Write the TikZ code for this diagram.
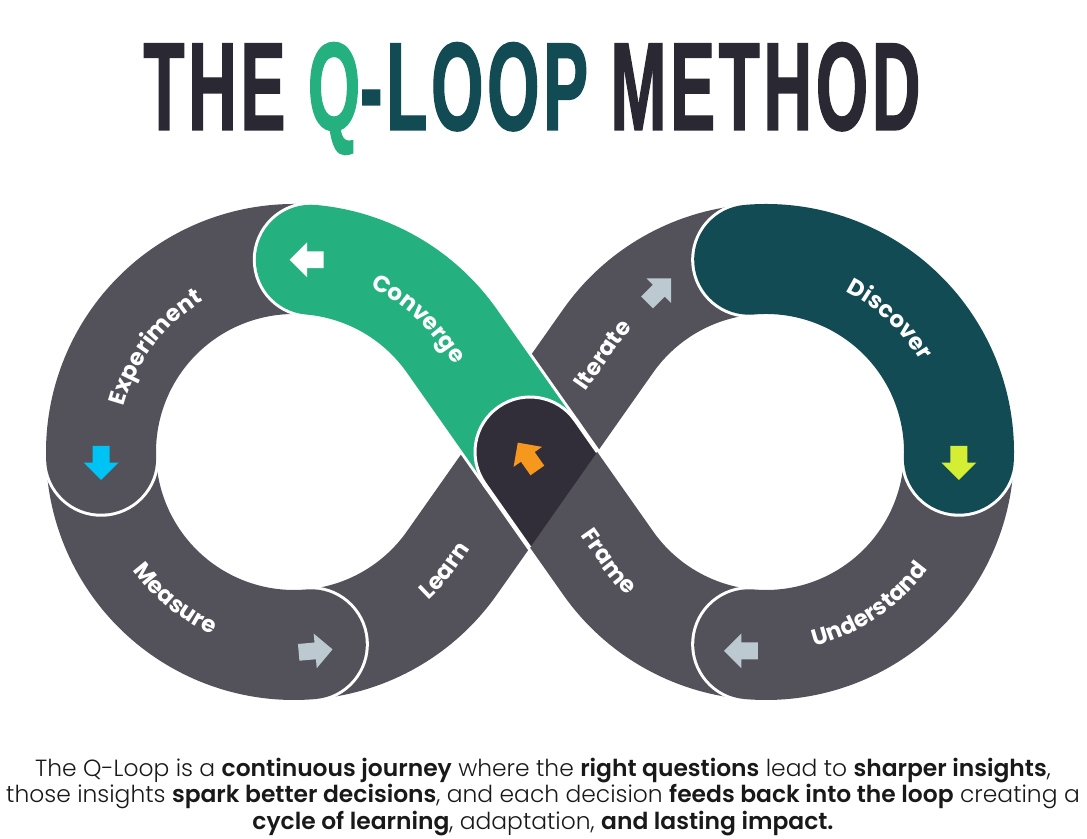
\documentclass[tikz,border=0pt]{standalone}
\usepackage{fontspec}
\usepackage{xcolor}
\usetikzlibrary{
    arrows.meta,
    shapes.arrows,
    positioning,
    calc,
    decorations.text
}
\newfontfamily\titlefont[FakeStretch=0.535,LetterSpace=3,BoldFeatures={FakeBold=1}]{Liberation Sans}
\newfontfamily\bodyfont[UprightFont={* Light},BoldFont={* SemiBold}]{Poppins}
\newfontfamily\labelfont{Poppins}
\definecolor{bandgray}{HTML}{53515A}
\definecolor{qgreen}{HTML}{25B17F}
\definecolor{qteal}{HTML}{124B53}
\definecolor{tipdark}{HTML}{322E39}
\definecolor{inkdark}{HTML}{2A2833}
\definecolor{arrowgray}{HTML}{BDC9D1}
\definecolor{arrowblue}{HTML}{00C3F5}
\definecolor{arrowlime}{HTML}{D4EE33}
\definecolor{arroworange}{HTML}{F7981E}

\begin{document}
\begin{tikzpicture}[x=0.5pt, y=0.5pt,
    band/.style={line width=55pt, line cap=butt},
    pill/.style={draw=white, line width=1.5pt, double=#1, double distance=55pt, line cap=round},
    flat-pill/.style={draw=white, line width=1.5pt, double=#1, double distance=55pt, line cap=butt},
    arrow-node/.style={single arrow, fill=#1, draw=none, inner sep=4pt, single arrow head extend=4.5pt, single arrow tip angle=90, minimum height=17pt},
    loop-label/.style={decorate, decoration={text along path, text align=center, text color=white,
        text={|\labelfont\bfseries\fontsize{11.5}{12}\selectfont|#1}}}]
    \useasboundingbox (0,0) rectangle (1087,839);

    % title
    \node [anchor=base, text=inkdark, font=\titlefont\bfseries\fontsize{62.8}{70}\selectfont] (title) at (532,709) {THE \textcolor{qgreen}{Q}\textcolor{qteal}{-LOOP} METHOD};

    % the two loops
    \coordinate (CL) at (294,387);
    \coordinate (CR) at (766,387);
    \coordinate (X) at (530,387);
    \coordinate (T1) at ($(CL)+(35.1:193)$);
    \coordinate (T2) at ($(CL)+(-35.1:193)$);
    \coordinate (T3) at ($(CR)+(144.9:193)$);
    \coordinate (T4) at ($(CR)+(215.1:193)$);

    % learn and iterate run under the crossing
    \draw [band, bandgray] ($(CL)+(275:193)$) arc[start angle=275, end angle=324.9, radius=193] -- (T3) arc[start angle=144.9, end angle=95, radius=193];
    \draw [pill=bandgray] ($(CL)+(182:193)$) arc[start angle=182, end angle=275, radius=193];
    \draw [pill=bandgray] ($(CL)+(85:193)$) arc[start angle=85, end angle=182, radius=193];
    \draw [pill=qgreen] (X) -- (T1) arc[start angle=35.1, end angle=85, radius=193];
    \draw [flat-pill=bandgray] ($(CR)+(265:193)$) arc[start angle=265, end angle=215.1, radius=193] -- (X);
    \draw [pill=bandgray] ($(CR)+(358:193)$) arc[start angle=358, end angle=265, radius=193];
    \draw [pill=qteal] ($(CR)+(95:193)$) arc[start angle=95, end angle=-2, radius=193];

    % dark tip on the crossing
    \fill [tipdark] ($(X)+(35.1:55)$) arc[start angle=35.1, end angle=215.1, radius=55] -- ($(X)+(0,-95.6)$) -- ($(X)+(67.2,0)$) -- cycle;
    \draw [white, line width=1.5pt] ($(X)+(67.2,0)$) -- ($(X)+(35.1:55)$) arc[start angle=35.1, end angle=215.1, radius=55] -- ($(X)+(0,-95.6)$);

    % arrows
    \node [arrow-node=white, rotate=180] (arr-converge) at ($(CL)+(85:193)$) {};
    \node [arrow-node=arrowblue, rotate=-90] (arr-experiment) at ($(CL)+(182:193)$) {};
    \node [arrow-node=arrowgray, rotate=5] (arr-measure) at ($(CL)+(275:200)$) {};
    \node [arrow-node=arroworange, rotate=125.1] (arr-frame) at ($(X)+(0,-8)$) {};
    \node [arrow-node=arrowgray, rotate=45] (arr-iterate) at ($(CR)+(124.7:193)$) {};
    \node [arrow-node=arrowlime, rotate=-90] (arr-discover) at ($(CR)+(-2:193)$) {};
    \node [arrow-node=arrowgray, rotate=180] (arr-understand) at ($(CR)+(264:200)$) {};

    % labels along the band
    \path [loop-label=Experiment] ($(CL)+(200:176)$) arc[start angle=200, end angle=86, radius=176];
    \path [loop-label=Converge] ($(CL)+(80:181)$) arc[start angle=80, end angle=35.1, radius=181] -- ++(-54.9:68);
    \path [loop-label=Measure] ($(CL)+(186:200)$) arc[start angle=186, end angle=276, radius=200];
    \path [loop-label=Learn] ($(CL)+(290:200)$) arc[start angle=290, end angle=324.9, radius=200] -- ++(54.9:99.4);
    \path [loop-label=Iterate] ($(CR)+(144.9:182)+(234.9:88)$) -- ($(CR)+(144.9:182)$) arc[start angle=144.9, end angle=126.4, radius=182];
    \path [loop-label=Discover] ($(CR)+(100:179)$) arc[start angle=100, end angle=-6, radius=179];
    \path [loop-label=Understand] ($(CR)+(250:200)$) arc[start angle=250, end angle=358, radius=200];
    \path [loop-label=Frame] ($(CR)+(215.1:200)+(125.1:80)$) -- ($(CR)+(215.1:200)$) arc[start angle=215.1, end angle=238, radius=200];

    % caption
    \node [align=center, text=black!90, font=\bodyfont\fontsize{11.7}{13.4}\selectfont] (caption) at (543,42) {The Q-Loop is a \textbf{continuous journey} where the \textbf{right questions} lead to \textbf{sharper insights},\\ those insights \textbf{spark better decisions}, and each decision \textbf{feeds back into the loop} creating a\\ \textbf{cycle of learning}, adaptation, \textbf{and lasting impact.}};
\end{tikzpicture}
\end{document}
